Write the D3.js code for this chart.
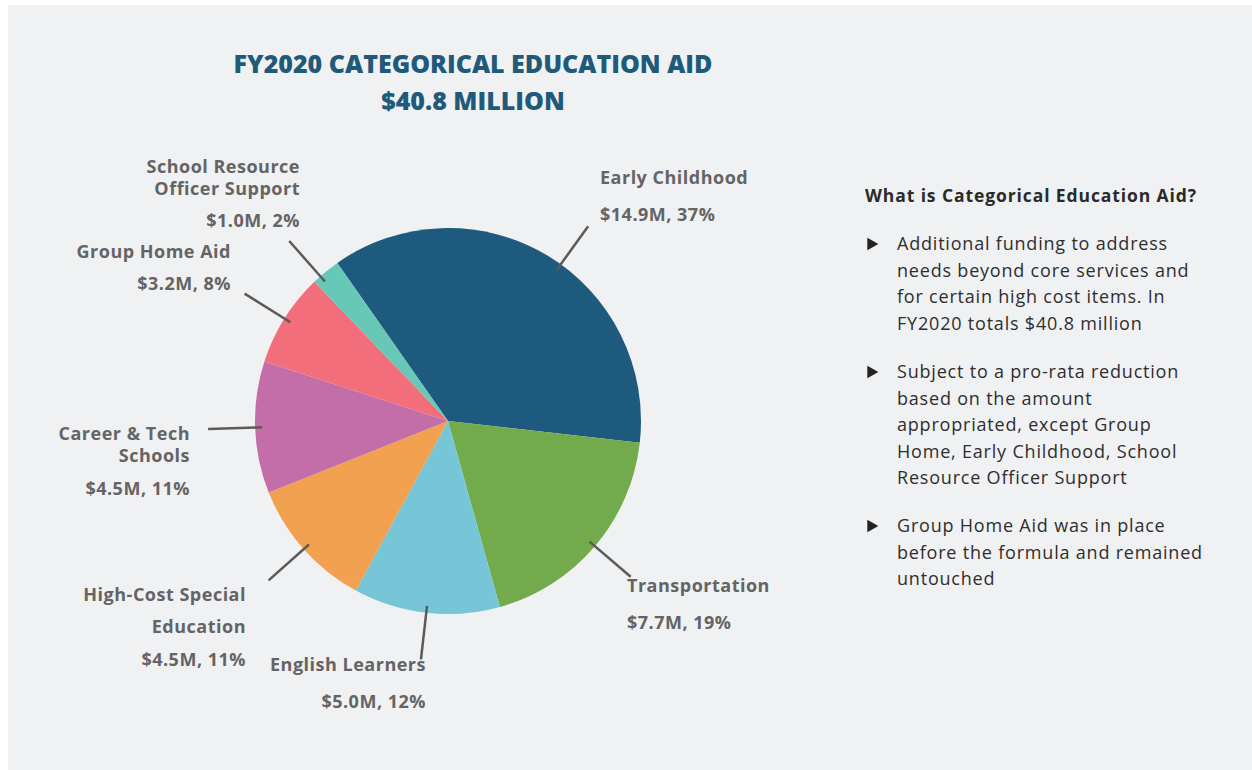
<!DOCTYPE html>
<html>
<head>
<meta charset="utf-8">
<script src="https://cdn.jsdelivr.net/npm/d3@7"></script>
<style>
  body { margin: 0; background: #ffffff; }
  svg { display: block; }
</style>
</head>
<body>
<svg id="chart"></svg>
<script>
// data
const categories = ['Early Childhood', 'Transportation', 'English Learners', 'High-Cost Special Education',
  'Career & Tech Schools', 'Group Home Aid', 'School Resource Officer Support'];
const amounts = [14.9, 7.7, 5.0, 4.5, 4.5, 3.2, 1.0];
const percents = [37, 19, 12, 11, 11, 8, 2];
const colors = ['#1d5a7e', '#72aa4c', '#76c6d8', '#f2a151', '#c46ea9', '#f26e7a', '#68c8b8'];
const titleLines = ['FY2020 CATEGORICAL EDUCATION AID', '$40.8 MILLION'];
const sideHeading = 'What is Categorical Education Aid?';
const bullets = [
  ['Additional funding to address', 'needs beyond core services and', 'for certain high cost items. In', 'FY2020 totals $40.8 million'],
  ['Subject to a pro-rata reduction', 'based on the amount', 'appropriated, except Group', 'Home, Early Childhood, School', 'Resource Officer Support'],
  ['Group Home Aid was in place', 'before the formula and remained', 'untouched']
];

// label layout: text lines, anchor point, alignment, line step, gap to value, leader tweak (deg)
const labelLayout = [
  {lines: ['Early Childhood'], x: 600, y: 184, anchor: 'start', step: 0, gap: 37, tilt: 5},
  {lines: ['Transportation'], x: 627, y: 592, anchor: 'start', step: 0, gap: 37, tilt: 0},
  {lines: ['English Learners'], x: 426, y: 671, anchor: 'end', step: 0, gap: 37, tilt: 0},
  {lines: ['High-Cost Special', 'Education'], x: 246, y: 601, anchor: 'end', step: 32, gap: 33, tilt: 0},
  {lines: ['Career & Tech', 'Schools'], x: 190, y: 440, anchor: 'end', step: 22, gap: 33, tilt: 0},
  {lines: ['Group Home Aid'], x: 231, y: 258, anchor: 'end', step: 0, gap: 32, tilt: 0},
  {lines: ['School Resource', 'Officer Support'], x: 300, y: 173, anchor: 'end', step: 22, gap: 32, tilt: -2}
];

const width = 1252, height = 770;
const cx = 448, cy = 421, radius = 193;
const labelColor = '#646464';
const labelFont = '"Open Sans", sans-serif';

const svg = d3.select('#chart')
    .attr('width', width)
    .attr('height', height);

// panel background
svg.append('rect')
    .attr('x', 8).attr('y', 5)
    .attr('width', width - 8).attr('height', height - 5)
    .attr('fill', '#f0f1f3');

// title
svg.append('g')
    .selectAll('text')
    .data(titleLines)
    .join('text')
    .attr('x', 473)
    .attr('y', (d, i) => 73 + i * 37)
    .attr('text-anchor', 'middle')
    .attr('fill', '#1f5a7a')
    .style('font-family', labelFont)
    .style('font-weight', 800)
    .style('font-size', '25px')
    .text(d => d);

const data = categories.map((c, i) => ({
  name: c, amount: amounts[i], pct: percents[i], color: colors[i], layout: labelLayout[i]
}));

const startAngle = -35 * Math.PI / 180;
const pie = d3.pie()
    .sort(null)
    .value(d => d.amount)
    .startAngle(startAngle)
    .endAngle(startAngle + 2 * Math.PI);

const arc = d3.arc().innerRadius(0).outerRadius(radius);

const chart = svg.append('g')
    .attr('transform', `translate(${cx},${cy})`);

const arcs = pie(data);

chart.selectAll('.slice')
    .data(arcs)
    .join('path')
    .attr('class', 'slice')
    .attr('d', arc)
    .attr('fill', d => d.data.color);

// leader lines, radial from the middle of each slice
const leaderPoint = (d, r) => {
  const a = (d.startAngle + d.endAngle) / 2 + d.data.layout.tilt * Math.PI / 180;
  return [Math.sin(a) * r, -Math.cos(a) * r];
};

chart.selectAll('.leader')
    .data(arcs)
    .join('line')
    .attr('class', 'leader')
    .attr('x1', d => leaderPoint(d, 186)[0])
    .attr('y1', d => leaderPoint(d, 186)[1])
    .attr('x2', d => leaderPoint(d, 240)[0])
    .attr('y2', d => leaderPoint(d, 240)[1])
    .attr('stroke', '#5a5a5a')
    .attr('stroke-width', 2.5);

// slice labels
const labels = svg.append('g')
    .selectAll('g')
    .data(data)
    .join('g');

labels.each(function(d) {
  const g = d3.select(this);
  const L = d.layout;
  const texts = L.lines.map((t, i) => ({t: t, y: L.y + i * L.step}));
  const lastY = texts[texts.length - 1].y;
  texts.push({t: `$${d3.format('.1f')(d.amount)}M, ${d.pct}%`, y: lastY + L.gap});
  g.selectAll('text')
      .data(texts)
      .join('text')
      .attr('x', L.x)
      .attr('y', t => t.y)
      .attr('text-anchor', L.anchor)
      .attr('fill', labelColor)
      .style('font-family', labelFont)
      .style('font-weight', 700)
      .style('font-size', '18px')
      .style('letter-spacing', '0.5px')
      .text(t => t.t);
});

// side text
const side = svg.append('g')
    .attr('transform', 'translate(865,0)');

side.append('text')
    .attr('x', 0)
    .attr('y', 202)
    .attr('fill', '#2a2a2a')
    .style('font-family', labelFont)
    .style('font-weight', 700)
    .style('font-size', '17.5px')
    .style('letter-spacing', '0.9px')
    .text(sideHeading);

const bulletTops = [250, 378, 532];
const lineStep = 26.5;

bullets.forEach((lines, b) => {
  side.append('path')
      .attr('d', d3.symbol().type(d3.symbolTriangle).size(70)())
      .attr('transform', `translate(${6},${bulletTops[b] - 6}) rotate(90)`)
      .attr('fill', '#222');
  side.append('g')
      .selectAll('text')
      .data(lines)
      .join('text')
      .attr('x', 32)
      .attr('y', (d, i) => bulletTops[b] + i * lineStep)
      .attr('fill', '#2e2e2e')
      .style('font-family', labelFont)
      .style('font-size', '18px')
      .style('letter-spacing', '0.8px')
      .text(d => d);
});
</script>
</body>
</html>
